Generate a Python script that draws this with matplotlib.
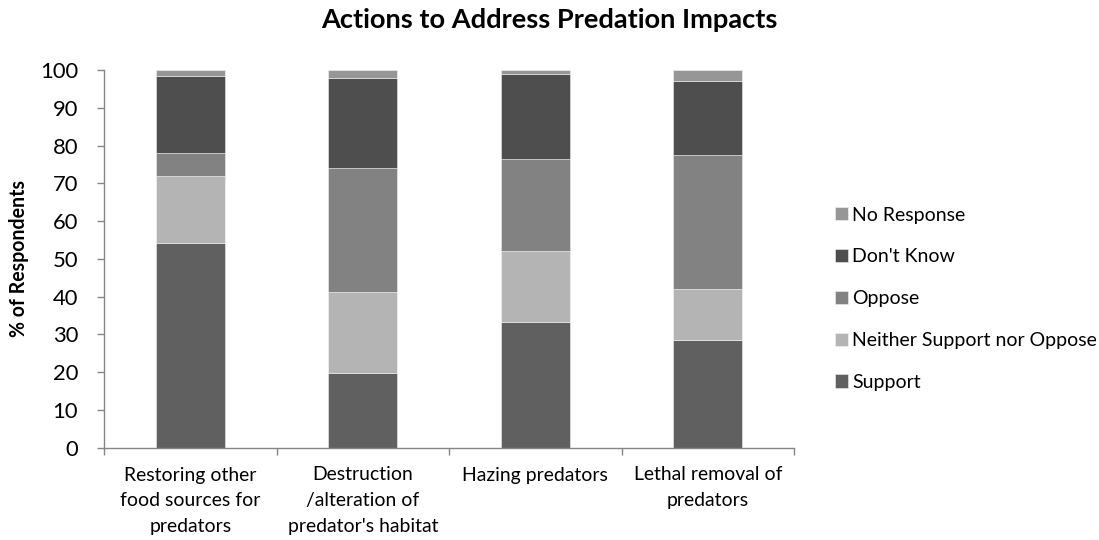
import matplotlib
matplotlib.use("Agg")
import matplotlib.pyplot as plt
import numpy as np

plt.rcParams['font.family'] = ['Lato', 'DejaVu Sans']

categories = ["Restoring other\nfood sources for\npredators",
              "Destruction\n/alteration of\npredator's habitat",
              "Hazing predators",
              "Lethal removal of\npredators"]
series_names = ["Support", "Neither Support nor Oppose", "Oppose", "Don't Know", "No Response"]
support = [54.3, 19.8, 33.2, 28.4]
neither = [17.8, 21.4, 18.9, 13.6]
oppose = [5.9, 32.8, 24.3, 35.5]
dont_know = [20.5, 24.0, 22.6, 19.7]
no_response = [1.5, 2.0, 1.0, 2.8]
colors = ["#606060", "#b4b4b4", "#828282", "#4e4e4e", "#969696"]
yticks = list(range(0, 101, 10))
title = "Actions to Address Predation Impacts"
ylabel = "% of Respondents"

W, H = 1099, 540
fig = plt.figure(figsize=(W / 100, H / 100), dpi=100)
r = fig.canvas.get_renderer()
PX2PT = 72 / 100


def fit(s, target_w, weight='normal', fs=12.0):
    for _ in range(4):
        t = fig.text(0, 0, s, fontsize=fs, fontweight=weight)
        w = t.get_window_extent(r).width
        t.remove()
        fs *= target_w / w
    return fs


fs_title = fit(title, 456, 'bold')
fs_ytick = fit("100", 38)
fs_xtick = fit("food sources for", 139)
fs_leg = fit("Neither Support nor Oppose", 245)
fs_ylab = fit(ylabel, 157, 'bold')

ax_l, ax_r, ax_t, ax_b = 104.3, 794.0, 70.3, 447.5
ax = fig.add_axes([ax_l / W, 1 - ax_b / H, (ax_r - ax_l) / W, (ax_b - ax_t) / H])

x = np.arange(len(categories))
bottom = np.zeros(len(categories))
handles = []
for name, vals, c in zip(series_names, [support, neither, oppose, dont_know, no_response], colors):
    b = ax.bar(x, vals, 0.4, bottom=bottom, color=c, label=name,
               edgecolor=(1, 1, 1, 0.45), linewidth=0.7)
    bottom += np.array(vals)
    handles.append(b)

ax.set_xlim(-0.5, len(categories) - 0.5)
ax.set_ylim(0, 100)
ax.set_yticks(yticks)
ax.set_yticklabels([str(t) for t in yticks], fontsize=fs_ytick)
ax.tick_params(axis='y', length=7 * PX2PT, color='#868686', width=1,
               pad=(ax_l - 7 - 78) * PX2PT)

# x tick labels with line pitch fitted to ~25.8 px
ls = 1.3
for _ in range(3):
    t1 = fig.text(0, 0, "Restoring other", fontsize=fs_xtick, linespacing=ls)
    t3 = fig.text(0, 0, "Restoring other\nfood sources for\npredators", fontsize=fs_xtick, linespacing=ls)
    h1 = t1.get_window_extent(r).height
    h3 = t3.get_window_extent(r).height
    t1.remove(); t3.remove()
    pitch = (h3 - h1) / 2
    ls *= 25.8 / pitch
ax.set_xticks(x)
ax.set_xticklabels(categories, fontsize=fs_xtick, linespacing=ls)
ax.tick_params(axis='x', which='major', length=0, pad=(466.5 - ax_b) * PX2PT)
ax.set_xticks(np.arange(len(categories) + 1) - 0.5, minor=True)
ax.tick_params(axis='x', which='minor', length=7 * PX2PT, color='#868686', width=1)

for s in ['top', 'right']:
    ax.spines[s].set_visible(False)
for s in ['left', 'bottom']:
    ax.spines[s].set_color('#868686')
    ax.spines[s].set_linewidth(1)

ax.set_ylabel(ylabel, fontsize=fs_ylab, fontweight='bold', va='center')
ax.yaxis.set_label_coords((19 - ax_l) / (ax_r - ax_l), 0.5)

fig.text(549 / W, 1 - 28.5 / H, title, fontsize=fs_title, fontweight='bold',
         ha='center', va='baseline')

# legend: squares of 13 px at x=835, text at 852, rows 41.8 px apart
fs_leg_px = fs_leg / PX2PT
sq = 13 / fs_leg_px
lsp = 1.0
for i in range(4):
    leg = fig.legend(handles[::-1], series_names[::-1], loc='center left',
                     bbox_to_anchor=(835 / W, 1 - 298.7 / H), frameon=False,
                     fontsize=fs_leg, borderpad=0, borderaxespad=0,
                     handlelength=sq, handleheight=sq,
                     handletextpad=4 / fs_leg_px, labelspacing=lsp)
    if i == 3:
        break
    fig.canvas.draw()
    ys = [t.get_window_extent(r).y0 for t in leg.get_texts()]
    p = -np.mean(np.diff(ys))
    lsp += (41.8 - p) / fs_leg_px
    leg.remove()

fig.savefig("out.png", dpi=100)
